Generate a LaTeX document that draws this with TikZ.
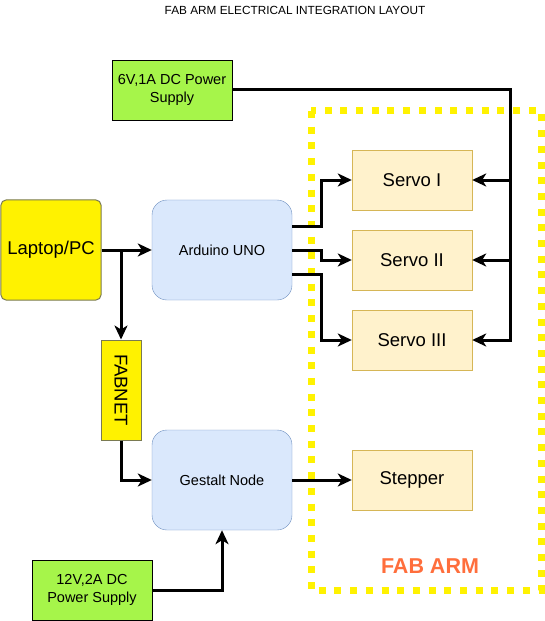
\documentclass[tikz,border=0pt]{standalone}
\usepackage{fontspec}
\setmainfont{Liberation Sans}
\usetikzlibrary{arrows.meta,calc}

\definecolor{psugreen}{RGB}{166,245,74}
\definecolor{boardfill}{RGB}{218,232,252}
\definecolor{boarddraw}{RGB}{108,142,191}
\definecolor{motorfill}{RGB}{255,242,204}
\definecolor{motordraw}{RGB}{214,182,86}
\definecolor{pcdraw}{RGB}{122,122,82}
\definecolor{armorange}{RGB}{255,110,60}

\begin{document}
\begin{tikzpicture}[x=1bp,y=-1bp,>={Stealth[length=14bp,width=13bp,inset=4bp]}]
 \tikzstyle{wire} = [line width=3bp,black]
 \tikzstyle{psubox} = [draw=black,fill=psugreen,line width=0.8bp,minimum width=120bp,minimum height=60bp,inner sep=0,align=center,font=\fontsize{14.5bp}{17.5bp}\selectfont]
 \tikzstyle{boardbox} = [draw=boarddraw,fill=boardfill,rounded corners=15bp,minimum width=140bp,minimum height=100bp,inner sep=0,font=\fontsize{14.5bp}{17.5bp}\selectfont]
 \tikzstyle{motorbox} = [draw=motordraw,fill=motorfill,minimum width=120bp,minimum height=60bp,inner sep=0,font=\fontsize{18.5bp}{22bp}\selectfont]
 \tikzstyle{pcbox} = [draw=pcdraw,fill=yellow,line width=1bp,inner sep=0,font=\fontsize{18.5bp}{22bp}\selectfont]

 \useasboundingbox (0,0) rectangle (545,621);

% Title
 \node[font=\fontsize{11.8bp}{13bp}\selectfont] (title) at (295,10) {FAB ARM ELECTRICAL INTEGRATION LAYOUT};

% Arm frame (drawn first, wires go over it)
 \draw[yellow,line width=7bp,dash pattern=on 7bp off 8.7bp] (311,111) rectangle (541,590);
 \node[font=\fontsize{21.5bp}{24bp}\selectfont\bfseries,text=armorange] (armlabel) at (430,566) {FAB ARM};

% Nodes
 \node[pcbox,minimum width=100bp,minimum height=100bp,rounded corners=5bp] (laptop) at (51,250) {Laptop/PC};
 \node[boardbox] (arduino) at (222,250) {Arduino UNO};
 \node[pcbox,minimum width=40bp,minimum height=100bp] (fabnet) at (121,390) {\rotatebox{-90}{FABNET}};
 \node[boardbox] (gestalt) at (222,480) {Gestalt Node};
 \node[psubox] (psu6) at (172,90) {6V,1A DC Power\\Supply};
 \node[psubox] (psu12) at (92,590) {12V,2A DC\\Power Supply};

 \node[motorbox] (servo1) at (412,180) {Servo I};
 \node[motorbox] (servo2) at (412,260) {Servo II};
 \node[motorbox] (servo3) at (412,340) {Servo III};
 \node[motorbox] (stepper) at (412,480) {Stepper};

% Signal wires
 \draw[wire,->] (laptop) -- (arduino);
 \draw[wire,->] (laptop) -| (fabnet);
 \draw[wire,->] (fabnet) |- (gestalt);
 \draw[wire,->] (psu12) -| (gestalt);
 \draw[wire,->] (gestalt) -- (stepper);

 \draw[wire,->] ($(arduino.east)+(0,-24)$) -- ++(29,0) |- (servo1);
 \draw[wire,->] (arduino.east) -- ++(29,0) |- (servo2);
 \draw[wire,->] ($(arduino.east)+(0,24)$) -- ++(29,0) |- (servo3);

% Power bus for the servos
 \coordinate (bus) at ($(servo3.east)+(38,0)$);
 \draw[wire,->] (psu6) -| (bus) -- (servo3);
 \draw[wire,->] (servo1.east -| bus) -- (servo1);
 \draw[wire,->] (servo2.east -| bus) -- (servo2);

\end{tikzpicture}
\end{document}
